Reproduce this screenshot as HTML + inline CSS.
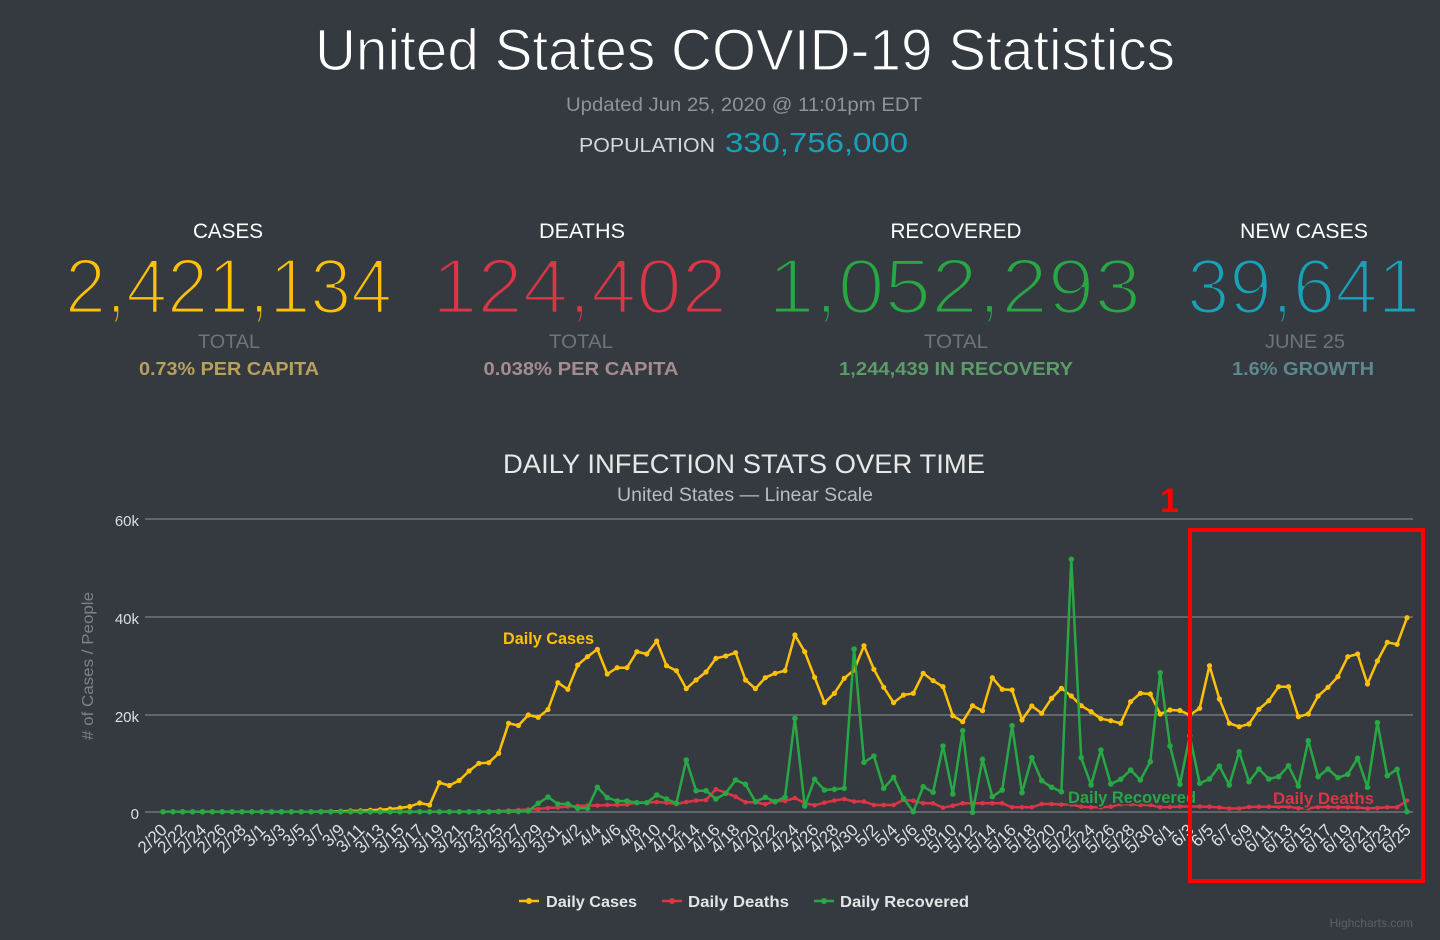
<!DOCTYPE html>
<html><head><meta charset="utf-8"><style>
html,body{margin:0;padding:0;background:#343a40;}
svg{display:block;font-family:"Liberation Sans",sans-serif;}
.xl text{font-size:17px;fill:#dcdfe2;}
</style></head><body>
<svg width="1440" height="940" viewBox="0 0 1440 940" xmlns="http://www.w3.org/2000/svg">
<rect width="1440" height="940" fill="#343a40"/>
<defs>
<marker id="my" markerUnits="userSpaceOnUse" markerWidth="8" markerHeight="8" refX="4" refY="4"><circle cx="4" cy="4" r="2.6" fill="#ffc107"/></marker>
<marker id="mr" markerUnits="userSpaceOnUse" markerWidth="8" markerHeight="8" refX="4" refY="4"><circle cx="4" cy="4" r="2.3" fill="#dc3545"/></marker>
<marker id="mg" markerUnits="userSpaceOnUse" markerWidth="8" markerHeight="8" refX="4" refY="4"><circle cx="4" cy="4" r="2.8" fill="#28a745"/></marker>
</defs>

<!-- Header -->
<text x="745" y="70" text-anchor="middle" font-size="58" fill="#ffffff" stroke="#343a40" stroke-width="1.2" textLength="860" lengthAdjust="spacingAndGlyphs">United States COVID-19 Statistics</text>
<text x="744" y="111" text-anchor="middle" font-size="19" fill="#8c939a" textLength="356" lengthAdjust="spacingAndGlyphs">Updated Jun 25, 2020 @ 11:01pm EDT</text>
<text x="579" y="152" font-size="20" fill="#d5d8db" textLength="136" lengthAdjust="spacingAndGlyphs">POPULATION</text>
<text x="725" y="152" font-size="28" fill="#17a2b8" textLength="183" lengthAdjust="spacingAndGlyphs">330,756,000</text>

<!-- Stats -->
<g font-size="21" fill="#ffffff" text-anchor="middle">
<text x="228" y="238" textLength="70" lengthAdjust="spacingAndGlyphs">CASES</text>
<text x="582" y="238" textLength="86" lengthAdjust="spacingAndGlyphs">DEATHS</text>
<text x="956" y="238" textLength="131" lengthAdjust="spacingAndGlyphs">RECOVERED</text>
<text x="1304" y="238" textLength="128" lengthAdjust="spacingAndGlyphs">NEW CASES</text>
</g>
<g font-size="78" stroke="#343a40" stroke-width="3">
<text x="65" y="313" fill="#ffc107" textLength="327" lengthAdjust="spacingAndGlyphs">2,421,134</text>
<text x="432" y="313" fill="#dc3545" textLength="295" lengthAdjust="spacingAndGlyphs">124,402</text>
<text x="768" y="313" fill="#28a745" textLength="373" lengthAdjust="spacingAndGlyphs">1,052,293</text>
<text x="1187" y="313" fill="#17a2b8" textLength="233" lengthAdjust="spacingAndGlyphs">39,641</text>
</g>
<g font-size="19" fill="#6c757d" text-anchor="middle">
<text x="229" y="348" textLength="62" lengthAdjust="spacingAndGlyphs">TOTAL</text>
<text x="581" y="348" textLength="64" lengthAdjust="spacingAndGlyphs">TOTAL</text>
<text x="956" y="348" textLength="64" lengthAdjust="spacingAndGlyphs">TOTAL</text>
<text x="1305" y="348" textLength="80" lengthAdjust="spacingAndGlyphs">JUNE 25</text>
</g>
<g font-size="18" font-weight="bold" text-anchor="middle">
<text x="229" y="375" fill="#b8a060" textLength="180" lengthAdjust="spacingAndGlyphs">0.73% PER CAPITA</text>
<text x="581" y="375" fill="#a48c91" textLength="195" lengthAdjust="spacingAndGlyphs">0.038% PER CAPITA</text>
<text x="956" y="375" fill="#5e9a6a" textLength="234" lengthAdjust="spacingAndGlyphs">1,244,439 IN RECOVERY</text>
<text x="1303" y="375" fill="#5e878e" textLength="142" lengthAdjust="spacingAndGlyphs">1.6% GROWTH</text>
</g>

<!-- Chart titles -->
<text x="744" y="473" text-anchor="middle" font-size="27" fill="#e8e8e8" textLength="482" lengthAdjust="spacingAndGlyphs">DAILY INFECTION STATS OVER TIME</text>
<text x="745" y="501" text-anchor="middle" font-size="19" fill="#b9bdc1" textLength="256" lengthAdjust="spacingAndGlyphs">United States — Linear Scale</text>

<!-- Grid -->
<g stroke="#6f7479" stroke-width="1.6">
<line x1="145" y1="519" x2="1413" y2="519"/>
<line x1="145" y1="617" x2="1413" y2="617"/>
<line x1="145" y1="715" x2="1413" y2="715"/>
<line x1="145" y1="812" x2="1413" y2="812"/>
</g>
<g font-size="15" fill="#dcdfe2" text-anchor="end">
<text x="139" y="526">60k</text>
<text x="139" y="624">40k</text>
<text x="139" y="722">20k</text>
<text x="139" y="819">0</text>
</g>
<text transform="translate(93,666) rotate(-90)" text-anchor="middle" font-size="16" fill="#7b8289" textLength="148" lengthAdjust="spacingAndGlyphs"># of Cases / People</text>

<!-- X labels -->
<g class="xl" text-anchor="end">
<text transform="translate(168.0,831) rotate(-45)">2/20</text>
<text transform="translate(187.7,831) rotate(-45)">2/22</text>
<text transform="translate(207.5,831) rotate(-45)">2/24</text>
<text transform="translate(227.2,831) rotate(-45)">2/26</text>
<text transform="translate(247.0,831) rotate(-45)">2/28</text>
<text transform="translate(266.7,831) rotate(-45)">3/1</text>
<text transform="translate(286.5,831) rotate(-45)">3/3</text>
<text transform="translate(306.2,831) rotate(-45)">3/5</text>
<text transform="translate(326.0,831) rotate(-45)">3/7</text>
<text transform="translate(345.7,831) rotate(-45)">3/9</text>
<text transform="translate(365.5,831) rotate(-45)">3/11</text>
<text transform="translate(385.2,831) rotate(-45)">3/13</text>
<text transform="translate(405.0,831) rotate(-45)">3/15</text>
<text transform="translate(424.7,831) rotate(-45)">3/17</text>
<text transform="translate(444.4,831) rotate(-45)">3/19</text>
<text transform="translate(464.2,831) rotate(-45)">3/21</text>
<text transform="translate(483.9,831) rotate(-45)">3/23</text>
<text transform="translate(503.7,831) rotate(-45)">3/25</text>
<text transform="translate(523.4,831) rotate(-45)">3/27</text>
<text transform="translate(543.2,831) rotate(-45)">3/29</text>
<text transform="translate(562.9,831) rotate(-45)">3/31</text>
<text transform="translate(582.7,831) rotate(-45)">4/2</text>
<text transform="translate(602.4,831) rotate(-45)">4/4</text>
<text transform="translate(622.2,831) rotate(-45)">4/6</text>
<text transform="translate(641.9,831) rotate(-45)">4/8</text>
<text transform="translate(661.7,831) rotate(-45)">4/10</text>
<text transform="translate(681.4,831) rotate(-45)">4/12</text>
<text transform="translate(701.1,831) rotate(-45)">4/14</text>
<text transform="translate(720.9,831) rotate(-45)">4/16</text>
<text transform="translate(740.6,831) rotate(-45)">4/18</text>
<text transform="translate(760.4,831) rotate(-45)">4/20</text>
<text transform="translate(780.1,831) rotate(-45)">4/22</text>
<text transform="translate(799.9,831) rotate(-45)">4/24</text>
<text transform="translate(819.6,831) rotate(-45)">4/26</text>
<text transform="translate(839.4,831) rotate(-45)">4/28</text>
<text transform="translate(859.1,831) rotate(-45)">4/30</text>
<text transform="translate(878.9,831) rotate(-45)">5/2</text>
<text transform="translate(898.6,831) rotate(-45)">5/4</text>
<text transform="translate(918.3,831) rotate(-45)">5/6</text>
<text transform="translate(938.1,831) rotate(-45)">5/8</text>
<text transform="translate(957.8,831) rotate(-45)">5/10</text>
<text transform="translate(977.6,831) rotate(-45)">5/12</text>
<text transform="translate(997.3,831) rotate(-45)">5/14</text>
<text transform="translate(1017.1,831) rotate(-45)">5/16</text>
<text transform="translate(1036.8,831) rotate(-45)">5/18</text>
<text transform="translate(1056.6,831) rotate(-45)">5/20</text>
<text transform="translate(1076.3,831) rotate(-45)">5/22</text>
<text transform="translate(1096.1,831) rotate(-45)">5/24</text>
<text transform="translate(1115.8,831) rotate(-45)">5/26</text>
<text transform="translate(1135.6,831) rotate(-45)">5/28</text>
<text transform="translate(1155.3,831) rotate(-45)">5/30</text>
<text transform="translate(1175.0,831) rotate(-45)">6/1</text>
<text transform="translate(1194.8,831) rotate(-45)">6/3</text>
<text transform="translate(1214.5,831) rotate(-45)">6/5</text>
<text transform="translate(1234.3,831) rotate(-45)">6/7</text>
<text transform="translate(1254.0,831) rotate(-45)">6/9</text>
<text transform="translate(1273.8,831) rotate(-45)">6/11</text>
<text transform="translate(1293.5,831) rotate(-45)">6/13</text>
<text transform="translate(1313.3,831) rotate(-45)">6/15</text>
<text transform="translate(1333.0,831) rotate(-45)">6/17</text>
<text transform="translate(1352.8,831) rotate(-45)">6/19</text>
<text transform="translate(1372.5,831) rotate(-45)">6/21</text>
<text transform="translate(1392.3,831) rotate(-45)">6/23</text>
<text transform="translate(1412.0,831) rotate(-45)">6/25</text>
</g>

<!-- Series: Daily Cases -->
<polyline fill="none" stroke="#ffc107" stroke-width="2.5" stroke-linejoin="round" marker-start="url(#my)" marker-mid="url(#my)" marker-end="url(#my)" points="163.0,811.8 172.9,811.8 182.7,811.8 192.6,811.8 202.5,811.8 212.4,811.8 222.2,811.8 232.1,811.8 242.0,811.8 251.9,811.8 261.7,811.8 271.6,811.8 281.5,811.8 291.3,811.8 301.2,811.8 311.1,811.8 321.0,811.6 330.8,811.5 340.7,811.3 350.6,811 360.5,810.8 370.3,810.3 380.2,809.8 390.1,809 400.0,808 409.8,806.5 419.7,803 429.6,805 439.4,782.7 449.3,785.5 459.2,780.5 469.1,771 478.9,763.3 488.8,762.7 498.7,753.3 508.6,723.3 518.4,725.5 528.3,715 538.2,717.3 548.0,709.5 557.9,682.7 567.8,689.3 577.7,665 587.5,656.7 597.4,649.3 607.3,674 617.2,667.7 627.0,667.7 636.9,651.7 646.8,654 656.7,641 666.5,665.7 676.4,670.7 686.3,688.7 696.1,680 706.0,672 715.9,658.3 725.8,656 735.6,652.7 745.5,680 755.4,688.7 765.3,677.7 775.1,673.3 785.0,670.7 794.9,635 804.7,651.7 814.6,677.3 824.5,702.7 834.4,693.3 844.2,678.3 854.1,670 864.0,645.7 873.9,669.3 883.7,687.3 893.6,702.7 903.5,695 913.3,693.3 923.2,673.3 933.1,680.7 943.0,686.7 952.8,715.7 962.7,721.7 972.6,705.7 982.5,710.7 992.3,677.7 1002.2,689.3 1012.1,690 1022.0,720 1031.8,706 1041.7,713.3 1051.6,698.3 1061.4,688.3 1071.3,696 1081.2,705.7 1091.1,711.7 1100.9,718.7 1110.8,720.7 1120.7,723.3 1130.6,701.7 1140.4,693.3 1150.3,694 1160.2,714 1170.0,710 1179.9,710.5 1189.8,715 1199.7,708.3 1209.5,665.7 1219.4,699 1229.3,723.3 1239.2,726.7 1249.0,724 1258.9,709.3 1268.8,700.7 1278.6,686.7 1288.5,686.7 1298.4,716.7 1308.3,714 1318.1,696 1328.0,687.3 1337.9,676.7 1347.8,656.7 1357.6,654 1367.5,684 1377.4,661 1387.3,642.3 1397.1,644.3 1407.0,617.7"/>

<!-- Series: Daily Deaths -->
<polyline fill="none" stroke="#dc3545" stroke-width="2.5" stroke-linejoin="round" marker-start="url(#mr)" marker-mid="url(#mr)" marker-end="url(#mr)" points="163.0,811.8 172.9,811.8 182.7,811.8 192.6,811.8 202.5,811.8 212.4,811.8 222.2,811.8 232.1,811.8 242.0,811.8 251.9,811.8 261.7,811.8 271.6,811.8 281.5,811.8 291.3,811.8 301.2,811.8 311.1,811.8 321.0,811.8 330.8,811.8 340.7,811.8 350.6,811.8 360.5,811.8 370.3,811.8 380.2,811.8 390.1,811.8 400.0,811.8 409.8,811.8 419.7,811.8 429.6,811.8 439.4,811.8 449.3,811.8 459.2,811.8 469.1,811.8 478.9,811.8 488.8,811.6 498.7,811 508.6,810.5 518.4,810 528.3,809.5 538.2,809 548.0,808 557.9,807.5 567.8,806.5 577.7,806 587.5,805.5 597.4,805.5 607.3,805 617.2,805 627.0,804.5 636.9,802.5 646.8,802.5 656.7,802 666.5,802.7 676.4,804 686.3,802 696.1,800.5 706.0,800 715.9,789.3 725.8,792.7 735.6,796.7 745.5,802.3 755.4,802.3 765.3,804.3 775.1,801 785.0,801 794.9,798 804.7,803 814.6,805.3 824.5,802.7 834.4,800.5 844.2,799 854.1,801.5 864.0,801.5 873.9,805 883.7,805 893.6,805 903.5,800 913.3,800.7 923.2,803.3 933.1,803.3 943.0,807.7 952.8,805.7 962.7,803.3 972.6,803.3 982.5,803.3 992.3,803.3 1002.2,803.3 1012.1,807.3 1022.0,807.3 1031.8,807.3 1041.7,804 1051.6,804 1061.4,804.5 1071.3,804.5 1081.2,806.7 1091.1,807.3 1100.9,807.3 1110.8,806.7 1120.7,804.3 1130.6,804.3 1140.4,805 1150.3,805 1160.2,807.3 1170.0,807 1179.9,806.5 1189.8,806.5 1199.7,806.5 1209.5,806.7 1219.4,807.5 1229.3,808.5 1239.2,808.5 1249.0,807 1258.9,806.7 1268.8,806.7 1278.6,806.7 1288.5,806.7 1298.4,808.3 1308.3,808.3 1318.1,807 1328.0,807 1337.9,807.3 1347.8,807.3 1357.6,807.5 1367.5,808.5 1377.4,808 1387.3,807.3 1397.1,807.3 1407.0,800.5"/>

<!-- Series: Daily Recovered -->
<polyline fill="none" stroke="#28a745" stroke-width="2.5" stroke-linejoin="round" marker-start="url(#mg)" marker-mid="url(#mg)" marker-end="url(#mg)" points="163.0,811.8 172.9,811.8 182.7,811.8 192.6,811.8 202.5,811.8 212.4,811.8 222.2,811.8 232.1,811.8 242.0,811.8 251.9,811.8 261.7,811.8 271.6,811.8 281.5,811.8 291.3,811.8 301.2,811.8 311.1,811.8 321.0,811.8 330.8,811.8 340.7,811.8 350.6,811.8 360.5,811.8 370.3,811.8 380.2,811.8 390.1,811.8 400.0,811.8 409.8,811.8 419.7,811.8 429.6,811.8 439.4,811.8 449.3,811.8 459.2,811.8 469.1,811.8 478.9,811.8 488.8,811.8 498.7,811.6 508.6,811.5 518.4,811.5 528.3,811 538.2,803.3 548.0,797 557.9,804 567.8,804 577.7,808.3 587.5,808.3 597.4,787.3 607.3,797.7 617.2,801 627.0,801 636.9,802.7 646.8,802.7 656.7,795 666.5,799 676.4,803.3 686.3,760 696.1,790.7 706.0,790.7 715.9,799 725.8,793.3 735.6,780 745.5,784.3 755.4,801.7 765.3,797.3 775.1,801.7 785.0,797.3 794.9,718.3 804.7,806 814.6,779.3 824.5,790 834.4,789.3 844.2,788.3 854.1,649 864.0,762.3 873.9,756 883.7,788.3 893.6,777.3 903.5,798.3 913.3,811.7 923.2,786.7 933.1,792.3 943.0,746 952.8,794 962.7,730.7 972.6,812.3 982.5,759.3 992.3,796.7 1002.2,790 1012.1,725.7 1022.0,792.7 1031.8,757.7 1041.7,780.7 1051.6,787.3 1061.4,791.7 1071.3,559.3 1081.2,757.7 1091.1,785 1100.9,750 1110.8,784 1120.7,779.3 1130.6,770 1140.4,780 1150.3,761.7 1160.2,672.7 1170.0,746 1179.9,784.3 1189.8,736 1199.7,783.3 1209.5,779 1219.4,766 1229.3,785 1239.2,751.7 1249.0,781.7 1258.9,769 1268.8,779 1278.6,776.7 1288.5,765.7 1298.4,786 1308.3,740.7 1318.1,776.7 1328.0,769 1337.9,777.7 1347.8,774.3 1357.6,758.3 1367.5,787.3 1377.4,722.7 1387.3,775.7 1397.1,769.3 1407.0,811.7"/>

<!-- Series labels -->
<g font-weight="bold" font-size="17">
<text x="503" y="644" fill="#ffc107" stroke="#343a40" stroke-width="3" paint-order="stroke" textLength="91" lengthAdjust="spacingAndGlyphs">Daily Cases</text>
<text x="1068" y="803" fill="#28a745" stroke="#343a40" stroke-width="3" paint-order="stroke" textLength="128" lengthAdjust="spacingAndGlyphs">Daily Recovered</text>
<text x="1273" y="804" fill="#dc3545" stroke="#343a40" stroke-width="3" paint-order="stroke" textLength="101" lengthAdjust="spacingAndGlyphs">Daily Deaths</text>
</g>

<!-- Legend -->
<g stroke-width="2.5">
<line x1="519" y1="901" x2="539" y2="901" stroke="#ffc107"/><circle cx="529" cy="901" r="3" fill="#ffc107"/>
<line x1="662" y1="901" x2="682" y2="901" stroke="#dc3545"/><circle cx="672" cy="901" r="3" fill="#dc3545"/>
<line x1="814" y1="901" x2="834" y2="901" stroke="#28a745"/><circle cx="824" cy="901" r="3" fill="#28a745"/>
</g>
<g font-weight="bold" font-size="16" fill="#e2e4e6">
<text x="546" y="907" textLength="91" lengthAdjust="spacingAndGlyphs">Daily Cases</text>
<text x="688" y="907" textLength="101" lengthAdjust="spacingAndGlyphs">Daily Deaths</text>
<text x="840" y="907" textLength="129" lengthAdjust="spacingAndGlyphs">Daily Recovered</text>
</g>
<text x="1413" y="927" text-anchor="end" font-size="12" fill="#5b6168">Highcharts.com</text>

<!-- Annotation -->
<rect x="1190" y="530" width="233" height="351" fill="none" stroke="#ff0000" stroke-width="4"/>
<text x="1160" y="512" font-size="34" font-weight="bold" fill="#ff0000">1</text>
</svg>
</body></html>
